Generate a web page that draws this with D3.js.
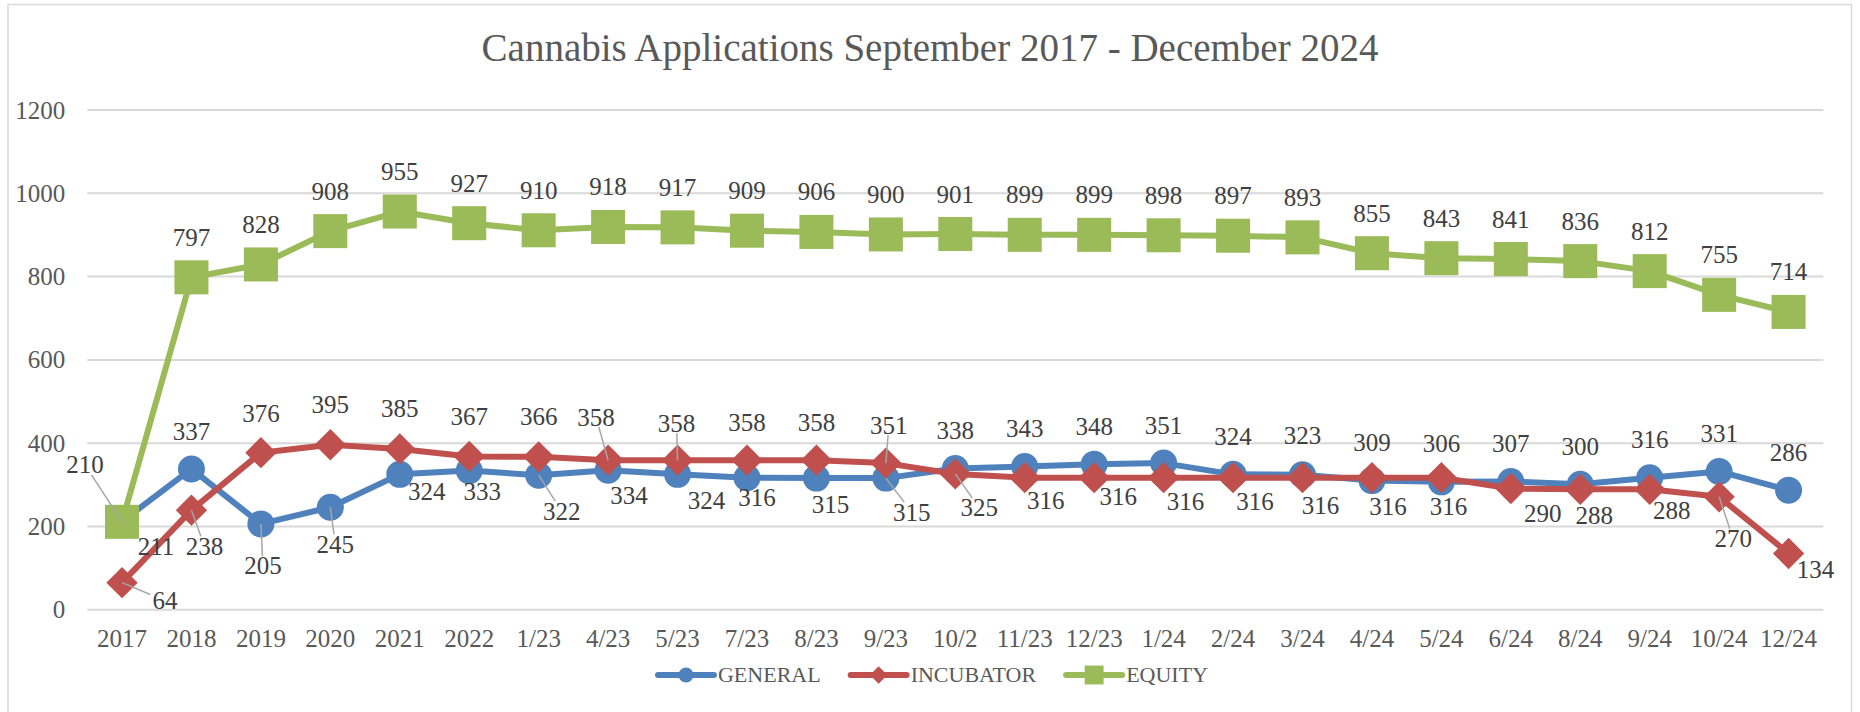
<!DOCTYPE html>
<html>
<head>
<meta charset="utf-8">
<script src="https://cdn.jsdelivr.net/npm/d3@7"></script>
<style>
  html, body { margin: 0; padding: 0; background: #ffffff; }
  svg { display: block; }
  text { font-family: "Liberation Serif", "Times New Roman", serif; }
</style>
</head>
<body>
<svg id="chart" width="1860" height="712"></svg>
<script>
// ---- data ----
const title = "Cannabis Applications September 2017 - December 2024";
const categories = ["2017","2018","2019","2020","2021","2022","1/23","4/23","5/23","7/23","8/23","9/23","10/2","11/23","12/23","1/24","2/24","3/24","4/24","5/24","6/24","8/24","9/24","10/24","12/24"];
const general   = [211,337,205,245,324,333,322,334,324,316,315,315,338,343,348,351,324,323,309,306,307,300,316,331,286];
const incubator = [64,238,376,395,385,367,366,358,358,358,358,351,325,316,316,316,316,316,316,316,290,288,288,270,134];
const equity    = [210,797,828,908,955,927,910,918,917,909,906,900,901,899,899,898,897,893,855,843,841,836,812,755,714];
const seriesNames = ["GENERAL","INCUBATOR","EQUITY"];
const yTicks = [0,200,400,600,800,1000,1200];

// ---- label placement (layout only: offsets of each data label from its point, px) ----
const generalLabelOffsets = [[34,25],[0,-37],[2,42],[5,37],[27,17],[13,21],[23,36],[21,25],[29,26],[10,20],[14,26],[26,34],[0,-38],[0,-38],[0,-38],[0,-38],[0,-38],[0,-39],[0,-38],[0,-38],[0,-38],[0,-38],[0,-38],[0,-38],[0,-38]];
const generalLeaders = [0,0,1,1,0,0,1,0,0,0,0,1,0,0,0,0,0,0,0,0,0,0,0,0,0];
const incubatorLabelOffsets = [[43,18],[13,36],[0,-39],[0,-40],[0,-40],[0,-40],[0,-40],[-12,-43],[-1,-37],[0,-38],[0,-38],[3,-38],[24,34],[21,23],[24,19],[22,24],[22,24],[18,28],[16,29],[7,29],[32,25],[14,26],[22,21],[14,42],[27,16]];
const incubatorLeaders = [1,1,0,0,0,0,0,1,1,0,0,1,1,0,0,0,0,0,0,0,0,0,0,1,0];
const equityLabelOffsets = categories.map((c,i) => i === 0 ? [-37,-57] : [0,-40]);
const equityLeaders = categories.map((c,i) => i === 0 ? 1 : 0);

// ---- styles ----
const colors = { GENERAL: "#4f81bd", INCUBATOR: "#c0504d", EQUITY: "#9bbb59" };
const W = 1860, H = 712;
const plot = { left: 87.3, right: 1823.3, top: 109.5, bottom: 609.3 };

const svg = d3.select("#chart");

// border
svg.append("rect").attr("x", 8).attr("y", 4.5).attr("width", 1843.5).attr("height", 720)
  .attr("fill", "#fff").attr("stroke", "#d9d9d9").attr("stroke-width", 1.5);

// title
svg.append("text").attr("x", 930).attr("y", 61).attr("text-anchor", "middle")
  .attr("font-size", 39).attr("fill", "#595959").text(title);

const x = d3.scaleBand().domain(categories).range([plot.left, plot.right]).padding(0);
const y = d3.scaleLinear().domain([0, 1200]).range([plot.bottom, plot.top]);
const cx = c => x(c) + x.bandwidth() / 2;

// gridlines + y axis
const yAxis = d3.axisLeft(y).tickValues(yTicks).tickSize(-(plot.right - plot.left)).tickPadding(22).tickFormat(d3.format("d"));
const gy = svg.append("g").attr("transform", `translate(${plot.left},0)`).call(yAxis);
gy.select(".domain").remove();
gy.selectAll(".tick line").attr("stroke", "#d9d9d9").attr("stroke-width", 2);
gy.selectAll(".tick text").attr("font-size", 25).attr("fill", "#595959")
  .attr("font-family", "Liberation Serif, serif").attr("dy", "0.34em");

// x axis
const xAxis = d3.axisBottom(x).tickSize(0).tickPadding(0);
const gx = svg.append("g").attr("transform", `translate(0,${plot.bottom})`).call(xAxis);
gx.select(".domain").remove();
gx.selectAll(".tick text").attr("font-size", 25).attr("fill", "#595959")
  .attr("font-family", "Liberation Serif, serif").attr("dy", 0).attr("y", 38);

// markers
function marker(g, name, size) {
  if (name === "GENERAL") {
    g.append("circle").attr("r", size * 0.5).attr("fill", colors[name]);
  } else if (name === "INCUBATOR") {
    const h = size * 0.58;
    g.append("path").attr("d", `M0,${-h}L${h},0L0,${h}L${-h},0Z`).attr("fill", colors[name]);
  } else {
    const s = size * 0.63;
    g.append("rect").attr("x", -s).attr("y", -s).attr("width", 2 * s).attr("height", 2 * s).attr("fill", colors[name]);
  }
}

const seriesData = [
  { name: "GENERAL", values: general, offs: generalLabelOffsets, leaders: generalLeaders },
  { name: "INCUBATOR", values: incubator, offs: incubatorLabelOffsets, leaders: incubatorLeaders },
  { name: "EQUITY", values: equity, offs: equityLabelOffsets, leaders: equityLeaders }
];

const line = d3.line().x((d, i) => cx(categories[i])).y(d => y(d));

seriesData.forEach(s => {
  const g = svg.append("g");
  g.append("path").datum(s.values).attr("d", line).attr("fill", "none")
    .attr("stroke", colors[s.name]).attr("stroke-width", 6).attr("stroke-linejoin", "round");
  s.values.forEach((v, i) => {
    const m = g.append("g").attr("transform", `translate(${cx(categories[i])},${y(v)})`);
    marker(m, s.name, 27);
  });
});

// data labels + leader lines
const labelLayer = svg.append("g");
const leaderLayer = svg.insert("g", () => labelLayer.node());
seriesData.forEach(s => {
  s.values.forEach((v, i) => {
    const px = cx(categories[i]), py = y(v);
    const lx = px + s.offs[i][0], ly = py + s.offs[i][1];
    const t = labelLayer.append("text").attr("x", lx).attr("y", ly).attr("dy", "0.34em")
      .attr("text-anchor", "middle").attr("font-size", 25).attr("fill", "#404040").text(v);
    if (s.leaders[i]) {
      const bb = t.node().getBBox();
      const hw = bb.width / 2 + 2, hh = 10;
      const dx = px - lx, dy = py - ly;
      const tt = Math.min(Math.abs(dx) > 0 ? hw / Math.abs(dx) : Infinity, Math.abs(dy) > 0 ? hh / Math.abs(dy) : Infinity);
      const ex = lx + dx * tt, ey = ly + dy * tt;
      leaderLayer.append("line").attr("x1", ex).attr("y1", ey).attr("x2", px).attr("y2", py)
        .attr("stroke", "#a6a6a6").attr("stroke-width", 1.5);
    }
  });
});

// legend
const legend = svg.append("g").attr("transform", "translate(0,675)");
let lxPos = 0;
const items = [];
seriesNames.forEach(n => {
  const g = legend.append("g");
  g.append("line").attr("x1", 0).attr("x2", 56).attr("y1", 0).attr("y2", 0)
    .attr("stroke", colors[n]).attr("stroke-width", 6).attr("stroke-linecap", "round");
  marker(g.append("g").attr("transform", "translate(28,0)"), n, 15);
  const t = g.append("text").attr("x", 60).attr("y", 0).attr("dy", "0.34em")
    .attr("font-size", 22).attr("fill", "#595959").text(n);
  items.push({ g, w: 60 + t.node().getComputedTextLength() });
});
const gap = 30;
const total = d3.sum(items, d => d.w) + gap * (items.length - 1);
let start = 933 - total / 2;
items.forEach(it => { it.g.attr("transform", `translate(${start},0)`); start += it.w + gap; });
</script>
</body>
</html>
